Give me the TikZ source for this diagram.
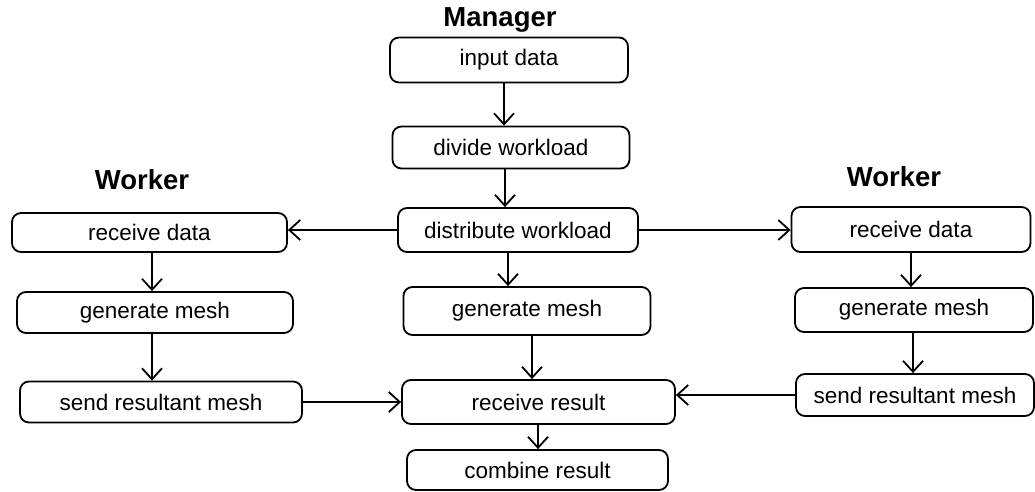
\documentclass[tikz,border=0pt]{standalone}
\usepackage{fontspec}
\setmainfont{Liberation Sans}
\usetikzlibrary{arrows.meta}

\begin{document}
\begin{tikzpicture}[x=1pt,y=-1pt]
        \useasboundingbox (0,0) rectangle (1035,492);
        \begin{scope}[every node/.style={font=\bfseries\fontsize{27.5}{32}\selectfont}]
            \node (m) at (500,20) {Manager};
            \node (w1) at (142,180) {Worker};
            \node (w2) at (894,177) {Worker};
        \end{scope}
        \begin{scope}[every node/.style={draw=black,line width=1.8pt,rounded corners=9pt,inner sep=0pt,font=\fontsize{22.5}{26}\selectfont}]
            % manager
            \node[minimum width=238pt,minimum height=45pt] (1) at (509,60) {input data};
            \node[minimum width=237pt,minimum height=42pt] (2) at (511,147.5) {divide workload};
            \node[minimum width=240pt,minimum height=44pt] (3) at (518,230) {distribute workload};
            \node[minimum width=247pt,minimum height=48pt] (7) at (527,311) {generate mesh};
            \node[minimum width=273pt,minimum height=44pt] (8) at (538.5,402) {receive result};
            \node[minimum width=261pt,minimum height=40pt] (9) at (537.5,470) {combine result};

            % worker left
            \node[minimum width=275pt,minimum height=39pt] (4) at (149.5,232.5) {receive data};
            \node[minimum width=276pt,minimum height=41pt] (5) at (155,312.5) {generate mesh};
            \node[minimum width=282pt,minimum height=41pt] (6) at (161,402) {send resultant mesh};

            % worker right
            \node[minimum width=239pt,minimum height=45pt] (10) at (911,229.5) {receive data};
            \node[minimum width=238pt,minimum height=44pt] (11) at (914,310) {generate mesh};
            \node[minimum width=238pt,minimum height=42pt] (12) at (915,395) {send resultant mesh};
        \end{scope}
        \begin{scope}[every edge/.style={draw,line width=1.8pt}]
            \path [-{Straight Barb[length=11pt,width=20pt]}] ([xshift=-5pt]1.south) edge ([xshift=-7pt]2.north);
            \path [-{Straight Barb[length=11pt,width=20pt]}] ([xshift=-6pt]2.south) edge ([xshift=-13pt]3.north);
            \path [-{Straight Barb[length=11pt,width=20pt]}] ([xshift=-10pt]3.south) edge ([xshift=-19pt]7.north);
            \path [-{Straight Barb[length=11pt,width=20pt]}] ([xshift=5pt]7.south) edge ([xshift=-6.5pt]8.north);
            \path [-{Straight Barb[length=11pt,width=20pt]}] ([xshift=-0.5pt]8.south) edge ([xshift=0.5pt]9.north);

            \path [-{Straight Barb[length=11pt,width=20pt]}] (3.west) edge (3.west -| 4.east);
            \path [-{Straight Barb[length=11pt,width=20pt]}] (3.east) edge (3.east -| 10.west);

            \path [-{Straight Barb[length=11pt,width=20pt]}] ([xshift=2.5pt]4.south) edge ([xshift=-3pt]5.north);
            \path [-{Straight Barb[length=11pt,width=20pt]}] ([xshift=-3pt]5.south) edge ([xshift=-9pt]6.north);
            \path [-{Straight Barb[length=11pt,width=20pt]}] (6.east) edge (6.east -| 8.west);

            \path [-{Straight Barb[length=11pt,width=20pt]}] (10.south) edge ([xshift=-3pt]11.north);
            \path [-{Straight Barb[length=11pt,width=20pt]}] ([xshift=-1pt]11.south) edge ([xshift=-2pt]12.north);
            \path [-{Straight Barb[length=11pt,width=20pt]}] (12.west) edge (12.west -| 8.east);
        \end{scope}
    \end{tikzpicture}
\end{document}
